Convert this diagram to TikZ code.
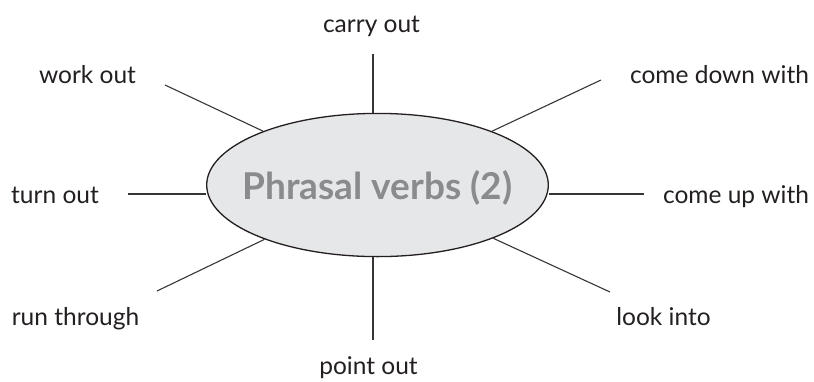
\documentclass[tikz,border=0pt]{standalone}
\usepackage{fontspec}
\setmainfont{Lato}
\usetikzlibrary{shapes.geometric}

\definecolor{hubfill}{HTML}{E6E7E8}
\definecolor{hubtext}{HTML}{8A8B8D}
\definecolor{ink}{HTML}{231F20}

\begin{document}
\begin{tikzpicture}[x=1pt, y=-1pt,
  verb/.style={anchor=base, inner sep=0pt, text=ink, font=\fontsize{24.5}{28}\selectfont},
  spoke/.style={draw=ink!90, line width=1.1pt}]
\useasboundingbox (0,0) rectangle (814,381);

% centre
\node[ellipse, draw=ink, line width=1.3pt, fill=hubfill, minimum width=341.6pt, minimum height=143.2pt, inner sep=0pt,
  text=hubtext, font=\fontsize{37}{42}\selectfont\bfseries] (hub) at (377.5,185)
  {\makebox[0pt]{\smash{\raisebox{-14pt}{Phrasal verbs (2)}}}};

% labels
\node[verb] (carry) at (371.5,32)  {carry out};
\node[verb] (work)  at (87.5,83)   {work out};
\node[verb] (down)  at (719.5,83)  {come down with};
\node[verb] (turn)  at (55,203)    {turn out};
\node[verb] (up)    at (736,203)   {come up with};
\node[verb] (run)   at (75.5,325)  {run through};
\node[verb] (look)  at (663.5,325) {look into};
\node[verb] (point) at (368.5,374) {point out};

% free ends of the spokes
\coordinate (c_carry) at (373,54);
\coordinate (c_work)  at (165,85);
\coordinate (c_down)  at (601,80);
\coordinate (c_turn)  at (128,194);
\coordinate (c_up)    at (644,194);
\coordinate (c_run)   at (157,291);
\coordinate (c_look)  at (610,292);
\coordinate (c_point) at (373,340);

\draw[spoke] (c_carry) -- (c_carry |- hub.north);
\draw[spoke] (c_point) -- (c_point |- hub.south);
\draw[spoke] (c_turn) -- (c_turn -| hub.west);
\draw[spoke] (c_up) -- (c_up -| hub.east);
\draw[spoke] (c_work) -- (hub);
\draw[spoke] (c_down) -- (hub);
\draw[spoke] (c_run) -- (hub);
\draw[spoke] (c_look) -- (hub);
\end{tikzpicture}
\end{document}
